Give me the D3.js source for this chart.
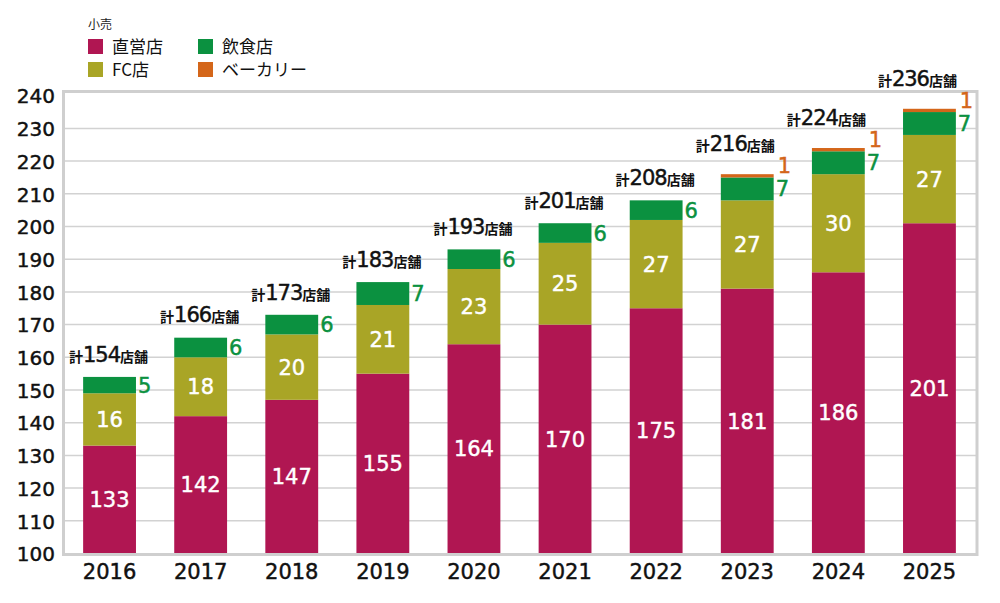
<!DOCTYPE html>
<html>
<head>
<meta charset="utf-8">
<script src="https://cdn.jsdelivr.net/npm/d3@7.9.0/dist/d3.min.js"></script>
<style>
  body { margin: 0; background: #fff; }
  svg { display: block; font-family: "Noto Sans CJK JP", "Noto Sans", sans-serif; }
  .num { font-family: "DejaVu Sans", "Noto Sans CJK JP", sans-serif; stroke-width: 0.45px; }
</style>
</head>
<body>
<svg id="chart" width="1000" height="603"></svg>
<script>
// data
const years = ["2016", "2017", "2018", "2019", "2020", "2021", "2022", "2023", "2024", "2025"];
const direct = [133, 142, 147, 155, 164, 170, 175, 181, 186, 201];
const franchise = [16, 18, 20, 21, 23, 25, 27, 27, 30, 27];
const food = [5, 6, 6, 7, 6, 6, 6, 7, 7, 7];
const bakery = [0, 0, 0, 0, 0, 0, 0, 1, 1, 1];
const yTicks = [100, 110, 120, 130, 140, 150, 160, 170, 180, 190, 200, 210, 220, 230, 240];

const seriesNames = ["直営店", "FC店", "飲食店", "ベーカリー"];
const colors = ["#b01652", "#a9a526", "#0b9140", "#d4661a"];

const rows = years.map((y, i) => ({
  year: y,
  "直営店": direct[i],
  "FC店": franchise[i],
  "飲食店": food[i],
  "ベーカリー": bakery[i]
}));
const total = (d) => d["直営店"] + d["FC店"] + d["飲食店"] + d["ベーカリー"];

const svg = d3.select("#chart");

const x = d3.scaleBand().domain(years).range([64, 975]).paddingInner(0.42).paddingOuter(0.21);
const y = d3.scaleLinear().domain([100, 240]).range([553.5, 95.7]);

const stacked = d3.stack().keys(seriesNames)(rows);

// grid
svg.append("g")
  .selectAll("line")
  .data(yTicks.slice(1, -1))
  .join("line")
  .attr("x1", 64).attr("x2", 976)
  .attr("y1", (d) => y(d)).attr("y2", (d) => y(d))
  .attr("stroke", "#d2d2d2")
  .attr("stroke-width", 1.5);

// bars (axis starts at 100, so clip the bottom there)
svg.append("g")
  .selectAll("g")
  .data(stacked)
  .join("g")
  .attr("fill", (d, i) => colors[i])
  .selectAll("rect")
  .data((d) => d)
  .join("rect")
  .attr("x", (d) => x(d.data.year))
  .attr("width", x.bandwidth())
  .attr("y", (d) => y(Math.max(d[1], 100)))
  .attr("height", (d) => y(Math.max(d[0], 100)) - y(Math.max(d[1], 100)));

// frame
svg.append("rect")
  .attr("x", 63.5).attr("y", 91.5)
  .attr("width", 913.5).attr("height", 463)
  .attr("fill", "none")
  .attr("stroke", "#cfcfcf")
  .attr("stroke-width", 3);

// y axis labels
const yAxis = d3.axisLeft(y).tickValues(yTicks).tickSize(0).tickPadding(0);
const yg = svg.append("g").attr("transform", "translate(55,0)").call(yAxis);
yg.select(".domain").remove();
yg.selectAll("text")
  .attr("class", "num")
  .attr("font-size", 20)
  .attr("fill", "#111")
  .attr("stroke", "#111")
  .attr("x", 0)
  .attr("dy", "0.36em")
  .style("font-family", "'DejaVu Sans', sans-serif");

// x axis labels
const xAxis = d3.axisBottom(x).tickSize(0).tickPadding(0);
const xg = svg.append("g").attr("transform", "translate(0,564)").call(xAxis);
xg.select(".domain").remove();
xg.selectAll("text")
  .attr("class", "num")
  .attr("font-size", 21)
  .attr("fill", "#111")
  .attr("stroke", "#111")
  .attr("dy", "0.71em")
  .style("font-family", "'DejaVu Sans', sans-serif");

// white labels inside 直営店 and FC店
stacked.slice(0, 2).forEach((s) => {
  svg.append("g")
    .selectAll("text")
    .data(s)
    .join("text")
    .attr("class", "num")
    .attr("x", (d) => x(d.data.year) + x.bandwidth() / 2)
    .attr("y", (d) => (y(Math.max(d[0], 100)) + y(d[1])) / 2)
    .attr("dy", "0.36em")
    .attr("text-anchor", "middle")
    .attr("fill", "#fff")
    .attr("stroke", "#fff")
    .attr("font-size", 21)
    .text((d) => d[1] - d[0]);
});

// 飲食店 labels at right of bar
svg.append("g")
  .selectAll("text")
  .data(stacked[2])
  .join("text")
  .attr("class", "num")
  .attr("x", (d) => x(d.data.year) + x.bandwidth() + 2)
  .attr("y", (d) => (y(d[0]) + y(d[1])) / 2)
  .attr("dy", "0.36em")
  .attr("fill", colors[2])
  .attr("stroke", colors[2])
  .attr("font-size", 21)
  .text((d) => d[1] - d[0]);

// ベーカリー labels
svg.append("g")
  .selectAll("text")
  .data(stacked[3].filter((d) => d[1] - d[0] > 0))
  .join("text")
  .attr("class", "num")
  .attr("x", (d) => x(d.data.year) + x.bandwidth() + 4)
  .attr("y", (d) => y(d[1]) - 1)
  .attr("fill", colors[3])
  .attr("stroke", colors[3])
  .attr("font-size", 21)
  .text((d) => d[1] - d[0]);

// totals
const totals = svg.append("g")
  .selectAll("text")
  .data(rows)
  .join("text")
  .attr("x", (d) => x(d.year) + x.bandwidth() / 2 - (d["ベーカリー"] > 0 ? 12 : 1))
  .attr("y", (d) => y(total(d)) - (d["ベーカリー"] > 0 ? 29 : 21))
  .attr("dy", "0.36em")
  .attr("text-anchor", "middle")
  .attr("fill", "#111");
totals.append("tspan").attr("font-size", 14).attr("font-weight", 700).text("計");
totals.append("tspan").attr("class", "num").attr("font-size", 21)
  .attr("letter-spacing", -1).attr("stroke", "#111").attr("stroke-width", 0.7)
  .text((d) => total(d));
totals.append("tspan").attr("font-size", 14).attr("font-weight", 700).text("店舗");

// legend
svg.append("text")
  .attr("x", 88).attr("y", 25)
  .attr("dy", "0.36em")
  .attr("font-size", 12)
  .attr("fill", "#222")
  .text("小売");

const legendPos = [[88, 39], [88, 62], [198, 39], [198, 62]];
const legend = svg.append("g")
  .selectAll("g")
  .data(seriesNames)
  .join("g")
  .attr("transform", (d, i) => `translate(${legendPos[i][0]},${legendPos[i][1]})`);
legend.append("rect")
  .attr("width", 15).attr("height", 15)
  .attr("fill", (d, i) => colors[i]);
legend.append("text")
  .attr("x", 24).attr("y", 7.5)
  .attr("dy", "0.36em")
  .attr("font-size", 17)
  .attr("fill", "#111")
  .text((d) => d);
</script>
</body>
</html>
